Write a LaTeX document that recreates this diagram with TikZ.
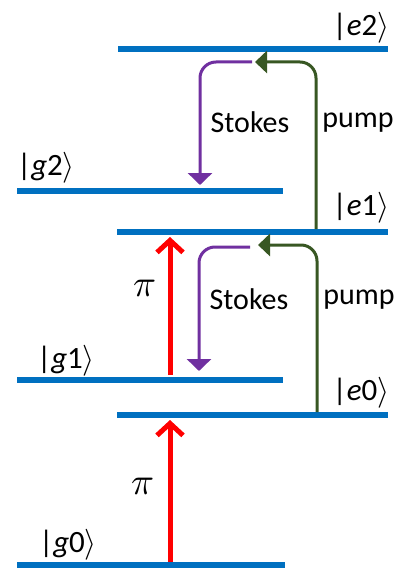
\documentclass[tikz,border=0pt]{standalone}
\usepackage{fontspec}
\usepackage{unicode-math}
\setmainfont{Carlito}
\setmathfont{Latin Modern Math}
\usetikzlibrary{arrows.meta}
\definecolor{lvl}{RGB}{0,112,192}
\definecolor{pumpc}{RGB}{56,87,35}
\definecolor{stokc}{RGB}{112,48,160}
\definecolor{pic}{RGB}{255,0,0}
\tikzset{
  level/.style={draw=lvl, line width=5.5pt},
  piarrow/.style={draw=pic, line width=5pt, -{Straight Barb[length=12pt,width=26pt]}},
  stokesarrow/.style={draw=stokc, line width=3pt, rounded corners=16pt, -{Triangle[length=12pt,width=24pt]}},
  pumparrow/.style={draw=pumpc, line width=3pt, rounded corners=16pt, -{Triangle[length=12pt,width=22pt]}},
  lbl/.style={font=\fontsize{30}{36}\selectfont, inner sep=0pt},
  pilbl/.style={font=\fontsize{38}{40}\selectfont, inner sep=0pt},
  ket/.style={font=\fontsize{31}{36}\selectfont, inner sep=0pt},
}
\newcommand{\ketlbl}[2]{\textbar\textit{#1}#2$\rangle$}
\begin{document}
\begin{tikzpicture}[x=1pt,y=-1pt]
\useasboundingbox (0,0) rectangle (400,572);
% levels
\coordinate (e2L) at (118,49);  \coordinate (e2R) at (388,49);
\coordinate (g2L) at (17,191);  \coordinate (g2R) at (283,191);
\coordinate (e1L) at (117,232); \coordinate (e1R) at (388,232);
\coordinate (g1L) at (17,380);  \coordinate (g1R) at (283,380);
\coordinate (e0L) at (117,415); \coordinate (e0R) at (388,415);
\coordinate (g0L) at (17,565);  \coordinate (g0R) at (285,565);
\draw[level] (e2L) -- (e2R);
\draw[level] (g2L) -- (g2R);
\draw[level] (e1L) -- (e1R);
\draw[level] (g1L) -- (g1R);
\draw[level] (e0L) -- (e0R);
\draw[level] (g0L) -- (g0R);
% level labels
\node[ket] (ke2) at (361,28) {\ketlbl{e}{2}};
\node[ket] (kg2) at (46,168) {\ketlbl{g}{2}};
\node[ket] (ke1) at (361,208) {\ketlbl{e}{1}};
\node[ket] (kg1) at (66,361) {\ketlbl{g}{1}};
\node[ket] (ke0) at (361,393) {\ketlbl{e}{0}};
\node[ket] (kg0) at (68,545) {\ketlbl{g}{0}};
% pi arrows
\coordinate (pa0) at (170,562); \coordinate (pb0) at (170,420);
\coordinate (pa1) at (170,375); \coordinate (pb1) at (170,237);
\draw[piarrow] (pa0) -- (pb0);
\draw[piarrow] (pa1) -- (pb1);
\node[pilbl] (pi0) at (143,487) {$\pi$};
\node[pilbl] (pi1) at (145,289) {$\pi$};
% Stokes arrows
\coordinate (sa2) at (252,62); \coordinate (sb2) at (200,185);
\coordinate (sa1) at (250,247); \coordinate (sb1) at (199,371);
\draw[stokesarrow] (sa2) -| (sb2);
\draw[stokesarrow] (sa1) -| (sb1);
\node[lbl] (st2) at (250,122) {Stokes};
\node[lbl] (st1) at (249,299) {Stokes};
% pump arrows
\coordinate (pu2a) at (316,229); \coordinate (pu2b) at (255,62);
\coordinate (pu1a) at (317,412); \coordinate (pu1b) at (258,245);
\draw[pumparrow] (pu2a) |- (pu2b);
\draw[pumparrow] (pu1a) |- (pu1b);
\node[lbl] (pm2) at (358,123) {pump};
\node[lbl] (pm1) at (359,300) {pump};
\end{tikzpicture}
\end{document}
